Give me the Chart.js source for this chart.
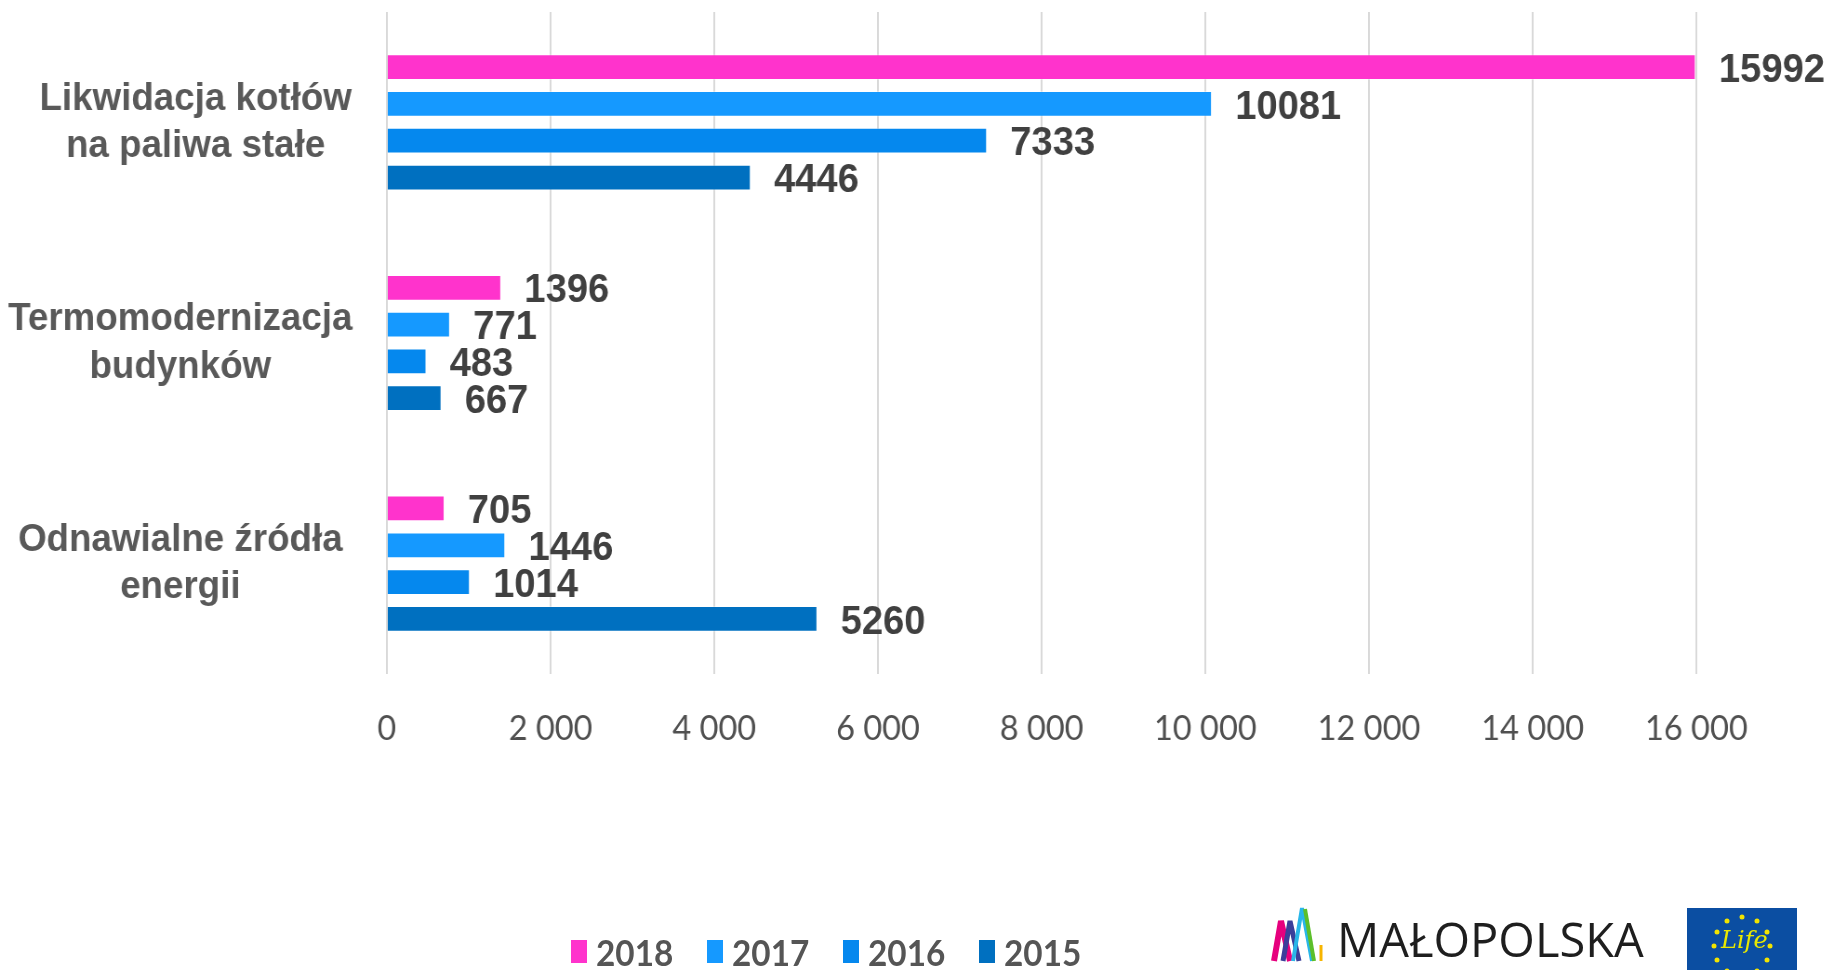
<!DOCTYPE html>
<html lang="pl">
<head>
<meta charset="utf-8">
<title>Efekty programu</title>
<script src="https://cdn.jsdelivr.net/npm/chart.js@4.4.1/dist/chart.umd.min.js"></script>
<style>
  html, body { margin: 0; padding: 0; background: #fff; }
  #wrap { position: relative; width: 1837px; height: 970px; overflow: hidden; }
  /* wykres lekko ściśnięty w poziomie, jak w oryginale */
  #chart { position: absolute; left: 0; top: 0; transform: scaleX(0.93); transform-origin: 0 0; }
  #legend { position: absolute; left: 571px; top: 929px; display: flex; font-family: Lato, 'Open Sans', sans-serif; font-weight: bold; font-size: 37px; color: #555; }
  #legend .item { display: flex; align-items: center; width: 136px; }
  #legend .box { width: 16px; height: 23px; margin-right: 9px; }
  #legend span { transform: scaleX(0.9); transform-origin: 0 50%; }
  #malopolska { position: absolute; left: 1271px; top: 905px; display: flex; align-items: flex-end; }
  #malopolska span { font-family: 'Open Sans', sans-serif; font-size: 47px; color: #1e1e1e; margin-left: 12px; line-height: 1; }
  #life { position: absolute; left: 1687px; top: 908px; width: 110px; height: 70px; background: #0b4ea2; }
  #life span { position: absolute; left: 34px; top: 18px; font-family: 'DejaVu Serif', serif; font-style: italic; font-size: 24px; color: #e8e800; }
</style>
</head>
<body>
<div id="wrap">
  <canvas id="chart" width="1975" height="970"></canvas>
  <div id="legend"></div>
  <div id="malopolska">
    <svg width="54" height="58" viewBox="0 0 54 58">
      <polyline points="3,56 10,16 19,56" fill="none" stroke="#e6007e" stroke-width="6"/>
      <polyline points="12,56 19,16 28,56" fill="none" stroke="#3b3f9a" stroke-width="5"/>
      <polyline points="22,56 31,3 41,56" fill="none" stroke="#29b6e8" stroke-width="4"/>
      <polyline points="34,4 43,56" fill="none" stroke="#5cbf2a" stroke-width="4"/>
      <line x1="50" y1="40" x2="50" y2="56" stroke="#f7b500" stroke-width="3"/>
    </svg>
    <span>MAŁOPOLSKA</span>
  </div>
  <div id="life">
    <svg width="110" height="70" style="position:absolute;left:0;top:0">
      <g fill="#f2e400">
        <circle cx="55" cy="9" r="2.5"/><circle cx="70" cy="13" r="2.5"/><circle cx="40" cy="13" r="2.5"/>
        <circle cx="80" cy="24" r="2.5"/><circle cx="30" cy="24" r="2.5"/>
        <circle cx="83" cy="38" r="2.5"/><circle cx="27" cy="38" r="2.5"/>
        <circle cx="80" cy="52" r="2.5"/><circle cx="30" cy="52" r="2.5"/>
        <circle cx="70" cy="63" r="2.5"/><circle cx="40" cy="63" r="2.5"/>
      </g>
    </svg>
    <span>Life</span>
  </div>
</div>
<script>
// Dane
const kategorie = [
  ['   Likwidacja kotłów', '   na paliwa stałe'],
  ['Termomodernizacja', 'budynków'],
  ['Odnawialne źródła', 'energii']
];
const lata = ['2018', '2017', '2016', '2015'];
const wartosci2018 = [15992, 1396, 705];
const wartosci2017 = [10081, 771, 1446];
const wartosci2016 = [7333, 483, 1014];
const wartosci2015 = [4446, 667, 5260];
const tickWartosci = [0, 2000, 4000, 6000, 8000, 10000, 12000, 14000, 16000];
const tickEtykiety = ['0', '2 000', '4 000', '6 000', '8 000', '10 000', '12 000', '14 000', '16 000'];

const kolory = ['#ff33cc', '#1599ff', '#0588ee', '#0070c0'];
const serie = [wartosci2018, wartosci2017, wartosci2016, wartosci2015];

const arial = '"Liberation Sans", Arial, sans-serif';

// Etykiety wartości przy słupkach
const etykietyWartosci = {
  id: 'etykietyWartosci',
  afterDatasetsDraw(chart) {
    const ctx = chart.ctx;
    const size = 41;
    ctx.save();
    ctx.font = 'bold ' + size + 'px ' + arial;
    ctx.fillStyle = '#404040';
    ctx.textAlign = 'left';
    ctx.textBaseline = 'alphabetic';
    chart.data.datasets.forEach((ds, i) => {
      chart.getDatasetMeta(i).data.forEach((bar, j) => {
        ctx.fillText(String(ds.data[j]), bar.x + 25, bar.y + size * 0.358);
      });
    });
    ctx.restore();
  }
};

// Legenda
const legenda = document.getElementById('legend');
lata.forEach((rok, i) => {
  const item = document.createElement('div');
  item.className = 'item';
  item.innerHTML = '<div class="box" style="background:' + kolory[i] + '"></div><span>' + rok + '</span>';
  legenda.appendChild(item);
});

const ctx = document.getElementById('chart').getContext('2d');
new Chart(ctx, {
  type: 'bar',
  data: {
    labels: kategorie,
    datasets: lata.map((rok, i) => ({
      label: rok,
      data: serie[i],
      backgroundColor: kolory[i],
      borderColor: 'rgba(255,255,255,0.35)',
      borderWidth: 1,
      categoryPercentage: 0.667,
      barPercentage: 0.7
    }))
  },
  options: {
    indexAxis: 'y',
    responsive: false,
    animation: false,
    layout: { padding: { top: 12, right: 151, bottom: 186, left: 0 } },
    plugins: {
      legend: { display: false },
      tooltip: { enabled: false }
    },
    scales: {
      x: {
        min: 0,
        max: 16000,
        afterBuildTicks(scale) {
          scale.ticks = tickWartosci.map(v => ({ value: v }));
        },
        grid: { color: '#d9d9d9', lineWidth: 2, drawTicks: false },
        border: { display: false },
        ticks: {
          padding: 34,
          color: '#505050',
          font: { family: 'Lato, "Open Sans", sans-serif', size: 35 },
          callback(value) {
            const idx = tickWartosci.indexOf(value);
            return idx >= 0 ? tickEtykiety[idx] : '';
          }
        }
      },
      y: {
        grid: { display: false, drawTicks: false },
        border: { display: false },
        afterFit(scale) {
          scale.width = 416;
          scale.paddingTop = 0;
          scale.paddingBottom = 0;
        },
        ticks: {
          crossAlign: 'center',
          padding: 37,
          color: '#595959',
          font: { family: arial, size: 39.5, weight: 'bold', lineHeight: 1.2 }
        }
      }
    }
  },
  plugins: [etykietyWartosci]
});
</script>
</body>
</html>
